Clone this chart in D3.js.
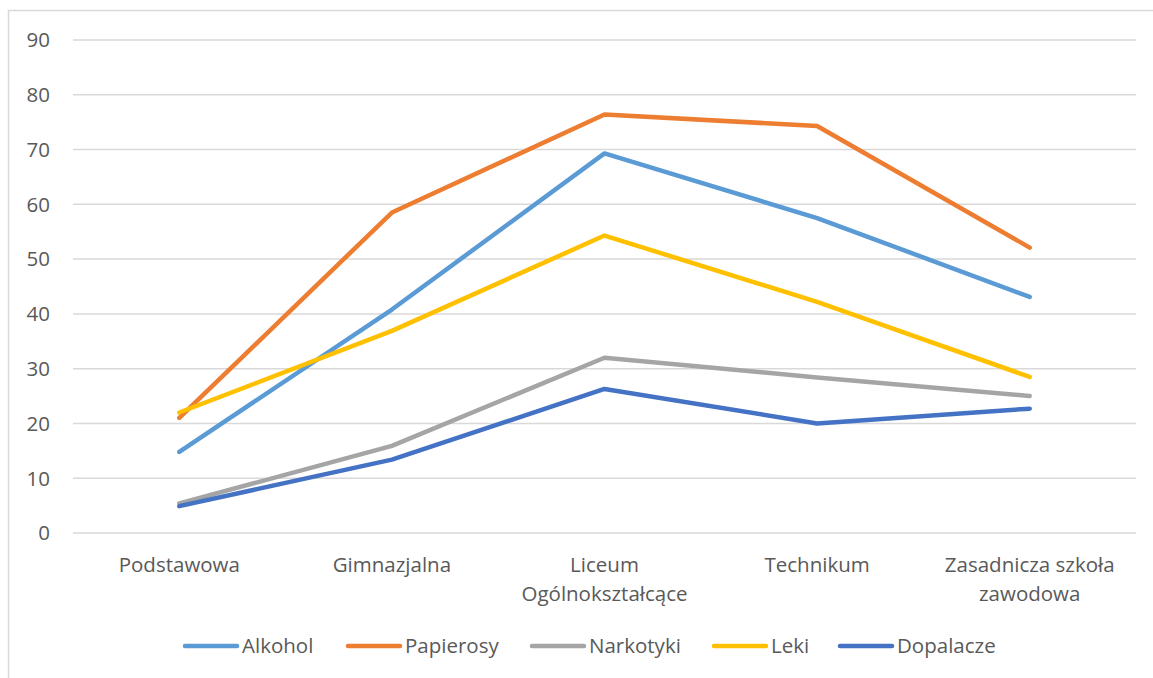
<!DOCTYPE html>
<html>
  <head>
    <meta charset="utf-8">
    <style>
    body {
      font-family: "Open Sans", sans-serif;
      margin: 0;
      background: #fff;
    }
    </style>
  </head>
  <body>
    <script src="https://d3js.org/d3.v7.min.js"></script>
    <script>
    var width = 1153, height = 678;

    // data
    var categories = ["Podstawowa", "Gimnazjalna", "Liceum Ogólnokształcące", "Technikum", "Zasadnicza szkoła zawodowa"];
    var categoryLines = [["Podstawowa"], ["Gimnazjalna"], ["Liceum", "Ogólnokształcące"], ["Technikum"], ["Zasadnicza szkoła", "zawodowa"]];
    var seriesNames = ["Alkohol", "Papierosy", "Narkotyki", "Leki", "Dopalacze"];
    var seriesColors = ["#5b9bd5", "#ed7d31", "#a5a5a5", "#ffc000", "#4472c4"];
    var alkohol = [14.8, 40.8, 69.3, 57.5, 43.1];
    var papierosy = [21.0, 58.5, 76.4, 74.3, 52.1];
    var narkotyki = [5.4, 15.9, 32.0, 28.4, 25.0];
    var leki = [22.0, 36.9, 54.3, 42.2, 28.5];
    var dopalacze = [4.9, 13.4, 26.3, 20.0, 22.7];
    var yTicks = [0, 10, 20, 30, 40, 50, 60, 70, 80, 90];

    var seriesValues = [alkohol, papierosy, narkotyki, leki, dopalacze];

    var svg = d3.select("body").append("svg")
        .attr("width", width)
        .attr("height", height);

    // chart frame (runs off the page at right and bottom)
    svg.append("rect")
        .attr("x", 8.5).attr("y", 10.5)
        .attr("width", 1160).attr("height", 700)
        .attr("fill", "none")
        .attr("stroke", "#d9d9d9")
        .attr("stroke-width", 1.5);

    var x = d3.scalePoint()
        .domain(categories)
        .range([73, 1136])
        .padding(0.5);

    var y = d3.scaleLinear()
        .domain([0, 90])
        .range([533, 40]);

    // gridlines
    svg.append("g")
      .selectAll("line")
      .data(yTicks)
      .enter().append("line")
        .attr("x1", 73).attr("x2", 1136)
        .attr("y1", function(d) { return y(d); })
        .attr("y2", function(d) { return y(d); })
        .attr("stroke", "#d9d9d9")
        .attr("stroke-width", 1.5);

    // y tick labels
    svg.append("g")
      .selectAll("text")
      .data(yTicks)
      .enter().append("text")
        .attr("x", 50)
        .attr("y", function(d) { return y(d); })
        .attr("dy", "0.36em")
        .attr("text-anchor", "end")
        .attr("fill", "#595959")
        .style("font-size", "20.5px")
        .text(function(d) { return d; });

    // category labels
    var cat = svg.append("g")
      .selectAll("text")
      .data(categories)
      .enter().append("text")
        .attr("text-anchor", "middle")
        .attr("fill", "#595959")
        .style("font-size", "20.5px");

    cat.selectAll("tspan")
      .data(function(d, i) { return categoryLines[i].map(function(t) { return {t: t, c: d}; }); })
      .enter().append("tspan")
        .attr("x", function(d) { return x(d.c); })
        .attr("y", function(d, j) { return 572 + j * 29; })
        .text(function(d) { return d.t; });

    // series lines
    var line = d3.line()
        .x(function(d, i) { return x(categories[i]); })
        .y(function(d) { return y(d); });

    svg.append("g")
      .selectAll("path")
      .data(seriesValues)
      .enter().append("path")
        .attr("d", line)
        .attr("fill", "none")
        .attr("stroke", function(d, i) { return seriesColors[i]; })
        .attr("stroke-width", 4.5)
        .attr("stroke-linejoin", "round")
        .attr("stroke-linecap", "round");

    // legend
    var legendX = [183, 346, 530, 712, 838];
    var legend = svg.append("g")
      .selectAll("g")
      .data(seriesNames)
      .enter().append("g")
        .attr("transform", function(d, i) { return "translate(" + legendX[i] + ",646)"; });

    legend.append("line")
        .attr("x1", 2).attr("x2", 54)
        .attr("stroke", function(d, i) { return seriesColors[i]; })
        .attr("stroke-width", 4.5)
        .attr("stroke-linecap", "round");

    legend.append("text")
        .attr("x", 59)
        .attr("dy", "0.36em")
        .attr("fill", "#595959")
        .style("font-size", "20.5px")
        .text(function(d) { return d; });
    </script>
  </body>
</html>
